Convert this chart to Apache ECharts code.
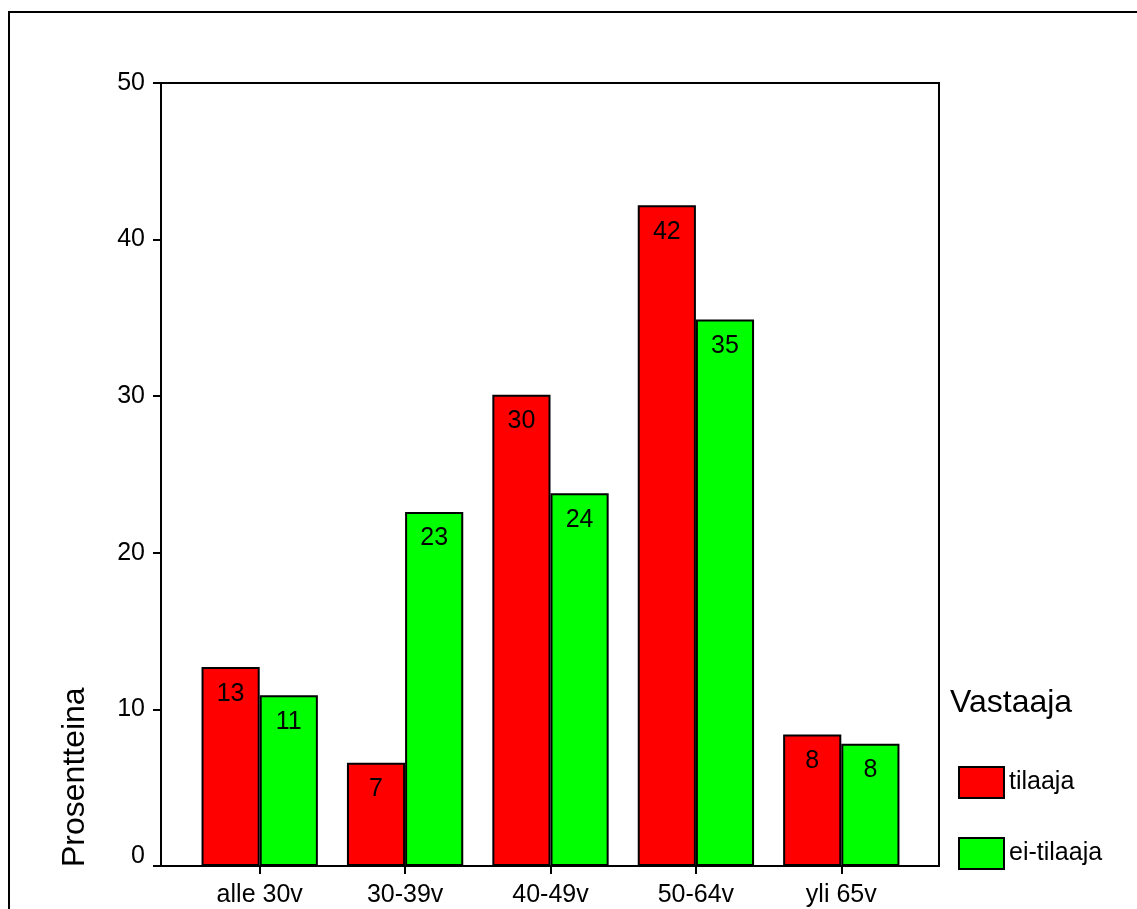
<!DOCTYPE html>
<html>
<head>
<meta charset="utf-8">
<script src="https://cdn.jsdelivr.net/npm/echarts@6/dist/echarts.min.js"></script>
<style>
html,body{margin:0;padding:0;background:#fff;}
#chart{width:1137px;height:909px;}
</style>
</head>
<body>
<div id="chart"></div>
<script>
var categories = ['alle 30v', '30-39v', '40-49v', '50-64v', 'yli 65v'];
var tilaaja = [12.7, 6.6, 30.1, 42.2, 8.4];
var eiTilaaja = [10.9, 22.6, 23.8, 34.9, 7.8];
var yTicks = [0, 10, 20, 30, 40, 50];
var seriesNames = ['tilaaja', 'ei-tilaaja'];
var yName = 'Prosentteina';
var legendTitle = 'Vastaaja';

var FONT = '"Liberation Sans", Arial, sans-serif';
var chart = echarts.init(document.getElementById('chart'), null, {renderer: 'canvas'});

var barLabel = {
  show: true,
  position: 'insideTop',
  distance: 14,
  fontFamily: FONT,
  fontSize: 25,
  color: '#000',
  formatter: function (p) { return String(Math.round(p.value)); }
};

var option = {
  backgroundColor: '#fff',
  animation: false,
  textStyle: {fontFamily: FONT},
  title: {
    text: legendTitle,
    left: 950,
    top: 687,
    padding: 0,
    textStyle: {fontFamily: FONT, fontSize: 32, fontWeight: 'normal', color: '#000'}
  },
  legend: {
    orient: 'vertical',
    left: 958,
    top: 766,
    padding: 0,
    itemWidth: 45,
    itemHeight: 31,
    itemGap: 38,
    icon: 'rect',
    data: seriesNames,
    itemStyle: {borderColor: '#000', borderWidth: 2},
    textStyle: {fontFamily: FONT, fontSize: 25, color: '#000'}
  },
  graphic: [
    {
      type: 'rect',
      shape: {x: 9, y: 12, width: 1300, height: 1100},
      style: {fill: 'none', stroke: '#000', lineWidth: 2},
      silent: true
    },
    {
      type: 'text',
      x: 75,
      y: 867,
      rotation: Math.PI / 2,
      style: {
        text: yName,
        fontFamily: FONT,
        fontSize: 32,
        fill: '#000',
        align: 'left',
        verticalAlign: 'middle'
      },
      silent: true
    }
  ],
  grid: [
    {left: 161, right: 198, top: 83, bottom: 43, show: true, borderColor: '#000', borderWidth: 2, backgroundColor: 'transparent'},
    {left: 187, right: 223, top: 83, bottom: 43}
  ],
  xAxis: [
    {gridIndex: 0, type: 'value', min: 0, max: 1, show: false},
    {
      gridIndex: 1,
      type: 'category',
      data: categories,
      axisLine: {show: true, lineStyle: {color: '#000', width: 2}},
      axisTick: {show: true, alignWithLabel: true, length: 8, lineStyle: {color: '#000', width: 2}},
      axisLabel: {color: '#000', fontFamily: FONT, fontSize: 25, margin: 17}
    }
  ],
  yAxis: [
    {
      gridIndex: 0,
      type: 'value',
      min: 0,
      max: 50,
      interval: 10,
      axisLine: {show: true, lineStyle: {color: '#000', width: 2}},
      axisTick: {show: true, length: 8, lineStyle: {color: '#000', width: 2}},
      splitLine: {show: false},
      axisLabel: {
        color: '#000',
        fontFamily: FONT,
        fontSize: 25,
        margin: 16,
        formatter: function (v) { return yTicks.indexOf(v) === 0 ? '{z|' + v + '}' : String(v); },
        rich: {z: {fontFamily: FONT, fontSize: 25, color: '#000', padding: [0, 0, 20, 0]}}
      }
    },
    {gridIndex: 1, type: 'value', min: 0, max: 50, show: false}
  ],
  series: [
    {
      name: seriesNames[0],
      type: 'bar',
      xAxisIndex: 1,
      yAxisIndex: 1,
      data: tilaaja,
      barGap: '0%',
      barCategoryGap: '20%',
      itemStyle: {color: '#ff0000', borderColor: '#000', borderWidth: 2},
      label: barLabel
    },
    {
      name: seriesNames[1],
      type: 'bar',
      xAxisIndex: 1,
      yAxisIndex: 1,
      data: eiTilaaja,
      barGap: '0%',
      barCategoryGap: '20%',
      itemStyle: {color: '#00ff00', borderColor: '#000', borderWidth: 2},
      label: barLabel
    }
  ]
};
chart.setOption(option);
</script>
</body>
</html>
